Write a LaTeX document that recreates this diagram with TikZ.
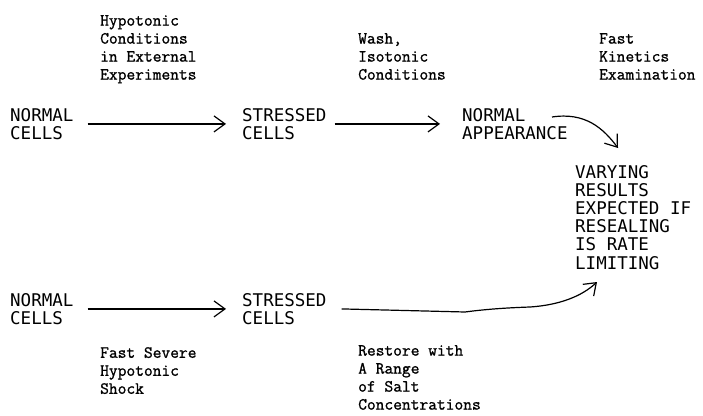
\documentclass[tikz,border=0pt]{standalone}
\usepackage{fontspec}
\usetikzlibrary{arrows.meta}
\newfontfamily\capsfont{DejaVu Sans Mono}
\newfontfamily\condfont{Latin Modern Mono}[FakeBold=1.2]

\begin{document}
\begin{tikzpicture}[x=1pt,y=-1pt,
    cellbox/.style={font=\capsfont\fontsize{17.5}{18.2}\selectfont, align=left, anchor=north west, inner sep=0pt},
    condbox/.style={font=\condfont\fontsize{17}{18}\selectfont, align=left, anchor=north west, inner sep=0pt},
    flow/.style={line width=1.2pt, -{Straight Barb[length=11pt,width=16pt]}}]
    \useasboundingbox (0,0) rectangle (703,415);

    \node[cellbox] (normA) at (10,108) {NORMAL\\CELLS};
    \node[cellbox] (stressA) at (242,108) {STRESSED\\CELLS};
    \node[cellbox] (appear) at (462,108) {NORMAL\\APPEARANCE};
    \node[cellbox] (result) at (575,165) {VARYING\\RESULTS\\EXPECTED IF\\RESEALING\\IS RATE\\LIMITING};
    \node[cellbox] (normB) at (10,293) {NORMAL\\CELLS};
    \node[cellbox] (stressB) at (242,293) {STRESSED\\CELLS};

    \node[condbox] (hypo) at (100,15) {Hypotonic\\Conditions\\in External\\Experiments};
    \node[condbox] (wash) at (358,33) {Wash,\\Isotonic\\Conditions};
    \node[condbox] (kinet) at (599,33) {Fast\\Kinetics\\Examination};
    \node[condbox] (shock) at (100,347) {Fast Severe\\Hypotonic\\Shock};
    \node[condbox] (salt) at (358,345) {Restore with\\A Range\\of Salt\\Concentrations};

    \coordinate (outA) at (552,117);
    \coordinate (tipA) at (618,148);
    \coordinate (tipB) at (597,282);

    \draw[flow, shorten <=14pt, shorten >=16pt] (normA.east) -- (stressA.west);
    \draw[flow, shorten <=8pt, shorten >=22pt] (stressA.east) -- (appear.west);
    \draw[flow] (outA) .. controls (585,112) and (603,128) .. (tipA);

    \draw[flow, shorten <=14pt, shorten >=16pt] (normB.east) -- (stressB.west);
    \draw[flow] ([xshift=15pt]stressB.east) -- (465,312)
        .. controls (480,310) and (500,308) .. (530,307)
        .. controls (560,305) and (582,296) .. (tipB);
\end{tikzpicture}
\end{document}
